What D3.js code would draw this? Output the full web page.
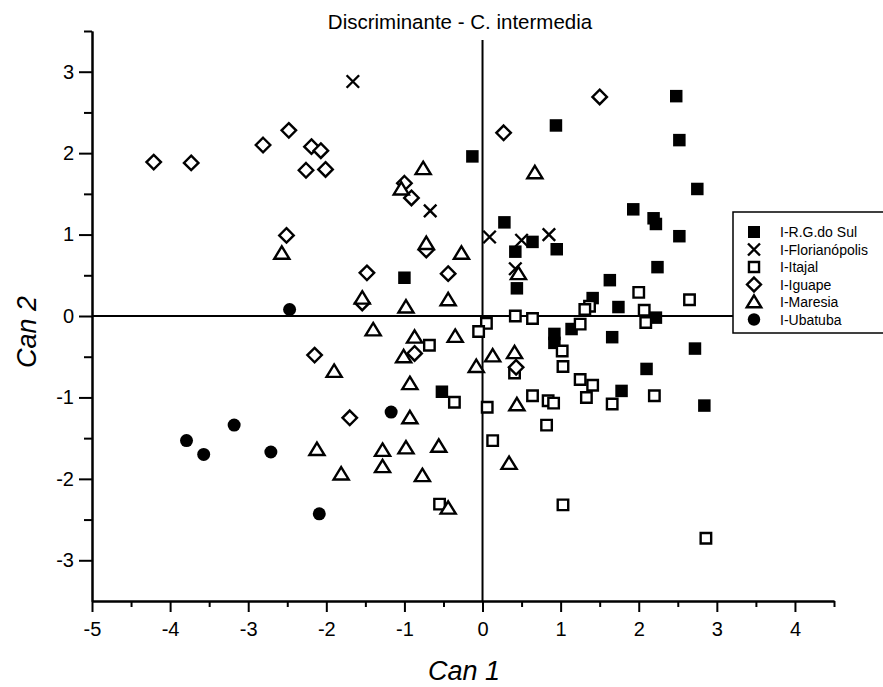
<!DOCTYPE html>
<html>
<head>
<meta charset="utf-8">
<script src="https://cdn.jsdelivr.net/npm/d3@7"></script>
<style>
  body { margin: 0; background: #fff; }
  text { font-family: "Liberation Sans", Arial, sans-serif; fill: #000; }
</style>
</head>
<body>
<svg id="chart" width="883" height="687"></svg>
<script>
// values: [Can 1, Can 2]
const rgdosul = [[2.48,2.70],[2.52,2.16],[0.94,2.34],[-0.13,1.96],[2.75,1.56],[1.93,1.31],[2.19,1.20],[2.22,1.13],
  [2.52,0.98],[0.28,1.15],[0.64,0.91],[0.42,0.79],[0.95,0.82],[2.24,0.60],[1.63,0.44],[0.44,0.34],[-1.0,0.47],
  [1.41,0.22],[1.74,0.11],[2.22,-0.02],[1.14,-0.16],[0.92,-0.22],[0.92,-0.33],[1.66,-0.26],[2.72,-0.40],
  [2.10,-0.65],[1.78,-0.92],[2.84,-1.10],[-0.52,-0.93]];
const florianopolis = [[-1.66,2.88],[-0.67,1.29],[0.09,0.97],[0.50,0.93],[0.85,1.0],[0.42,0.58]];
const itajal = [[2.0,0.29],[2.65,0.20],[1.37,0.12],[1.31,0.08],[2.07,0.07],[2.09,-0.08],[1.25,-0.10],[0.42,0.0],
  [0.64,-0.03],[0.05,-0.09],[-0.05,-0.19],[1.02,-0.43],[1.03,-0.62],[1.25,-0.78],[1.41,-0.85],[1.33,-1.0],
  [1.66,-1.08],[2.20,-0.98],[0.64,-0.98],[0.84,-1.04],[0.91,-1.07],[0.06,-1.12],[0.82,-1.34],[0.13,-1.53],
  [1.03,-2.32],[2.86,-2.73],[-0.68,-0.36],[-0.36,-1.06],[0.41,-0.70],[-0.55,-2.31]];
const iguape = [[-4.21,1.89],[-3.73,1.88],[-2.81,2.10],[-2.48,2.28],[-2.19,2.08],[-2.07,2.03],[-2.26,1.79],
  [-2.01,1.80],[-2.51,0.99],[-1.48,0.53],[-1.0,1.63],[-0.91,1.45],[0.27,2.25],[1.5,2.69],[-0.72,0.81],
  [-0.44,0.52],[-1.54,0.16],[-2.15,-0.48],[-0.87,-0.46],[-1.70,-1.25],[0.43,-0.63]];
const maresia = [[-0.76,1.81],[0.67,1.76],[-1.04,1.56],[-2.57,0.77],[-0.72,0.89],[-0.27,0.77],[0.46,0.52],
  [-1.54,0.22],[-0.98,0.11],[-0.44,0.20],[-1.40,-0.17],[-0.87,-0.26],[-0.35,-0.25],[-1.01,-0.50],[-1.90,-0.68],
  [-0.93,-0.83],[-0.08,-0.62],[0.13,-0.49],[0.41,-0.45],[0.44,-1.09],[0.34,-1.81],[-0.93,-1.25],[-2.12,-1.64],
  [-1.28,-1.65],[-0.98,-1.62],[-0.56,-1.60],[-1.81,-1.94],[-1.28,-1.85],[-0.77,-1.96],[-0.44,-2.36]];
const ubatuba = [[-2.47,0.08],[-3.79,-1.53],[-3.57,-1.70],[-3.18,-1.34],[-2.71,-1.67],[-1.17,-1.18],[-2.09,-2.43]];

const seriesNames = ['I-R.G.do Sul', 'I-Florianópolis', 'I-Itajal', 'I-Iguape', 'I-Maresia', 'I-Ubatuba'];
const seriesData = [rgdosul, florianopolis, itajal, iguape, maresia, ubatuba];
const seriesShapes = ['fsquare', 'cross', 'osquare', 'diamond', 'triangle', 'circle'];

const xMajor = [-5, -4, -3, -2, -1, 0, 1, 2, 3, 4];
const xMinor = [-4.5, -3.5, -2.5, -1.5, -0.5, 0.5, 1.5, 2.5, 3.5, 4.5];
const yMajor = [-3, -2, -1, 0, 1, 2, 3];
const yMinor = [-2.5, -1.5, -0.5, 0.5, 1.5, 2.5, 3.5];

const svg = d3.select('#chart');
const x = d3.scaleLinear().domain([-5, 4.5]).range([92, 834]);
const y = d3.scaleLinear().domain([-3.5, 3.5]).range([601, 31]);

// zero lines
svg.append('line')
    .attr('x1', x(0)).attr('x2', x(0)).attr('y1', 40).attr('y2', y(-3.5))
    .attr('stroke', '#000').attr('stroke-width', 2);
svg.append('line')
    .attr('x1', x(-5)).attr('x2', x(4.5)).attr('y1', y(0)).attr('y2', y(0))
    .attr('stroke', '#000').attr('stroke-width', 2);

// axes
const styleAxis = g => {
  g.selectAll('.domain').attr('stroke-width', 2);
  g.selectAll('.tick line').attr('stroke-width', 2);
  g.selectAll('text').style('font-size', '20px').style('font-family', '"Liberation Sans", Arial, sans-serif');
};
const fmt = d => String(d);  // plain hyphen like the picture
svg.append('g').attr('transform', `translate(0,${y(-3.5)})`)
    .call(d3.axisBottom(x).tickValues(xMinor).tickSize(6).tickFormat('').tickSizeOuter(0))
    .call(styleAxis);
svg.append('g').attr('transform', `translate(0,${y(-3.5)})`)
    .call(d3.axisBottom(x).tickValues(xMajor).tickSize(11).tickPadding(10).tickSizeOuter(0).tickFormat(fmt))
    .call(styleAxis);
svg.append('g').attr('transform', `translate(${x(-5)},0)`)
    .call(d3.axisLeft(y).tickValues(yMinor).tickSize(8).tickFormat('').tickSizeOuter(0))
    .call(styleAxis);
svg.append('g').attr('transform', `translate(${x(-5)},0)`)
    .call(d3.axisLeft(y).tickValues(yMajor).tickSize(13).tickPadding(5).tickSizeOuter(0).tickFormat(fmt))
    .call(styleAxis);

// markers
function marker(shape, s) {
  const p = d3.path();
  if (shape === 'fsquare') { p.rect(-s * 0.5, -s * 0.5, s, s); }
  else if (shape === 'osquare') { const h = s * 0.42; p.rect(-h, -h, 2 * h, 2 * h); }
  else if (shape === 'diamond') { const h = s * 0.58; p.moveTo(0, -h); p.lineTo(h, 0); p.lineTo(0, h); p.lineTo(-h, 0); p.closePath(); }
  else if (shape === 'triangle') { const h = s * 0.55; p.moveTo(0, -h); p.lineTo(h * 1.1, h * 0.8); p.lineTo(-h * 1.1, h * 0.8); p.closePath(); }
  else if (shape === 'circle') { p.arc(0, 0, s * 0.52, 0, 2 * Math.PI); }
  else if (shape === 'cross') { const h = s * 0.5; p.moveTo(-h, -h); p.lineTo(h, h); p.moveTo(h, -h); p.lineTo(-h, h); }
  return p.toString();
}
function styleMarker(sel, shape) {
  if (shape === 'fsquare' || shape === 'circle') sel.attr('fill', '#000').attr('stroke', 'none');
  else if (shape === 'cross') sel.attr('fill', 'none').attr('stroke', '#000').attr('stroke-width', 2.4);
  else sel.attr('fill', '#fff').attr('stroke', '#000').attr('stroke-width', 2.4);
}

seriesData.forEach((data, i) => {
  const shape = seriesShapes[i];
  svg.append('g').selectAll('path')
      .data(data)
      .join('path')
      .attr('transform', d => `translate(${x(d[0])},${y(d[1])})`)
      .attr('d', marker(shape, 12.5))
      .call(styleMarker, shape);
});

// legend
const legend = svg.append('g').attr('transform', 'translate(733,212)');
legend.append('rect').attr('x', 0).attr('y', 0).attr('width', 160).attr('height', 121)
    .attr('fill', '#fff').attr('stroke', '#000').attr('stroke-width', 1.5);
seriesNames.forEach((name, i) => {
  const cy = 20 + i * 17.5;
  legend.append('path')
      .attr('transform', `translate(21,${cy})`)
      .attr('d', marker(seriesShapes[i], 12))
      .call(styleMarker, seriesShapes[i]);
  legend.append('text').attr('x', 47).attr('y', cy + 5)
      .style('font-size', '14px').text(name);
});

// titles
svg.append('text').attr('x', 460).attr('y', 29).attr('text-anchor', 'middle')
    .style('font-size', '20.5px')
    .text('Discriminante - C. intermedia');
svg.append('text').attr('x', 464).attr('y', 680).attr('text-anchor', 'middle')
    .style('font-size', '27px').style('font-style', 'italic').text('Can 1');
svg.append('text').attr('transform', 'translate(36,332) rotate(-90)').attr('text-anchor', 'middle')
    .style('font-size', '27px').style('font-style', 'italic').text('Can 2');
</script>
</body>
</html>
